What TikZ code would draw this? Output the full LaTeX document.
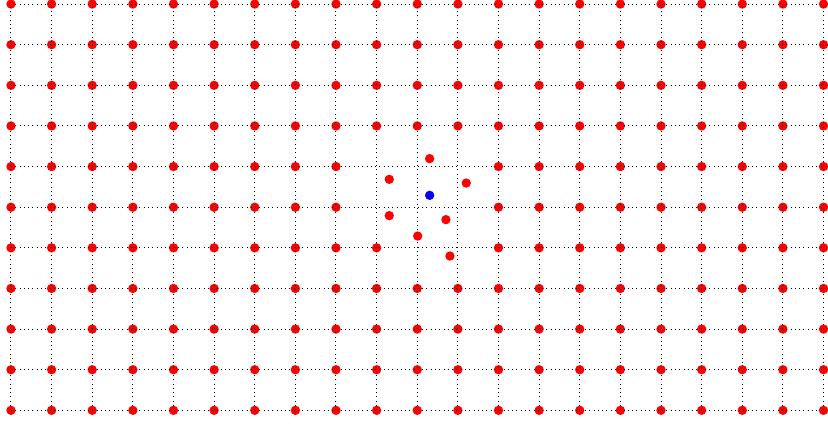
\documentclass[tikz,border=0pt]{standalone}
\usepackage{tikz}
\definecolor{csite}{HTML}{FF0000}
\definecolor{cint}{HTML}{0000FF}
\tikzset{
  gridline/.style={black,line width=0.7pt,dash pattern=on 0.7pt off 2.3pt},
  site/.style={fill=csite},
}

\begin{document}
\begin{tikzpicture}[x=1cm,y=1cm]
    \useasboundingbox (-0.27,-0.345) rectangle (20.11,10.1);
    % ---- regular lattice sites, vacancies left open around the defect
    \foreach \i in {0,...,20}{
      \foreach \j in {0,...,10}{
        \pgfmathtruncatemacro{\vac}{and(\i>8,\i<12)*and(\j>4,\j<7)+and(\i>9,\i<12)*(\j==4)}
        \ifnum\vac=0 \fill[site] (\i,\j) circle (0.115);\fi}}
    % ---- dotted lattice lines
    \foreach \j in {0,...,10}{
      \draw[gridline] (0,\j) -- (20,\j);}
    \foreach \i in {0,...,20}{
      \draw[gridline] (\i,0) -- (\i,10);}
    % ---- relaxed atoms around the interstitial
    \foreach \x/\y in {10.305/6.195,9.311/5.686,11.206/5.594,9.311/4.793,
                       10.706/4.694,10.010/4.290,10.805/3.798}{
      \fill[site] (\x,\y) circle (0.115);}
    \fill[cint] (10.305,5.292) circle (0.115);
\end{tikzpicture}
\end{document}
